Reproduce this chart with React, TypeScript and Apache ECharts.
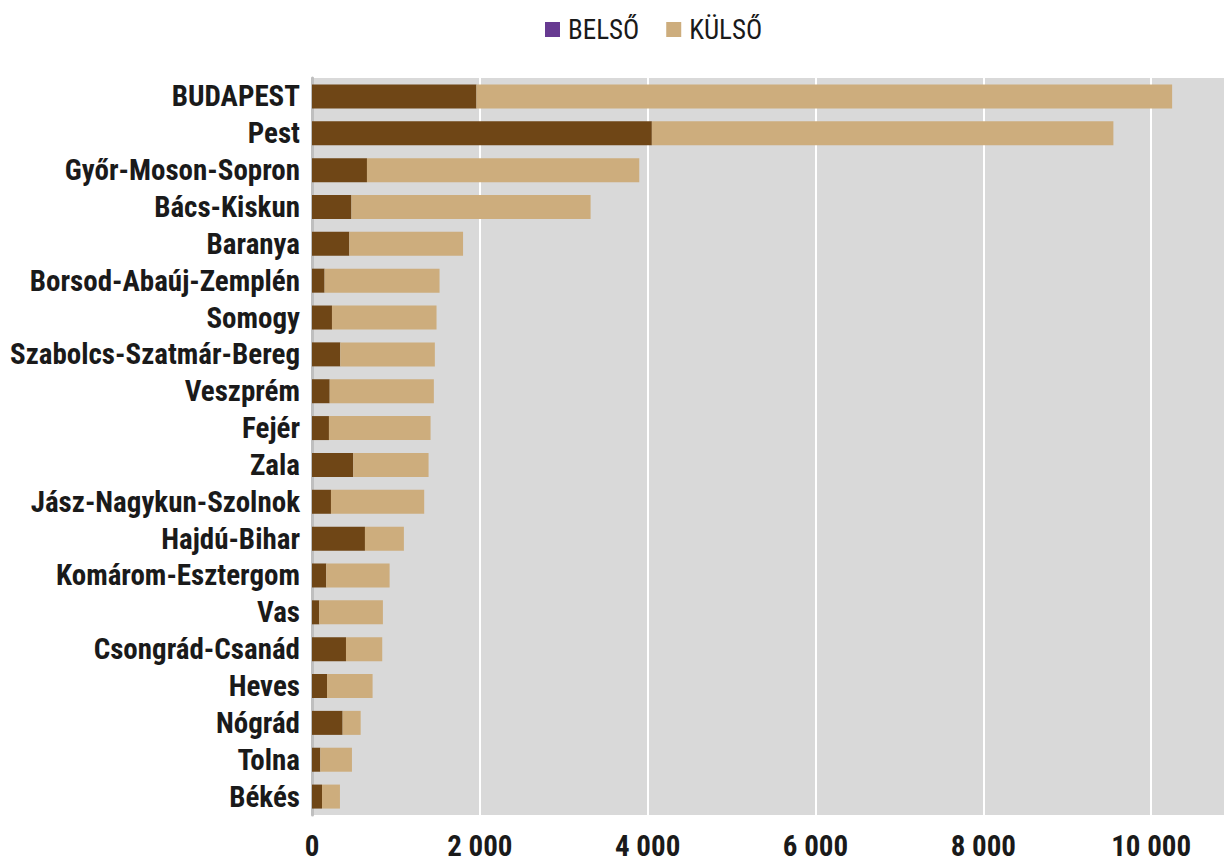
import React, { useEffect, useRef } from "react";
import * as echarts from "echarts";

const categories = [
  "BUDAPEST", "Pest", "Győr-Moson-Sopron", "Bács-Kiskun", "Baranya",
  "Borsod-Abaúj-Zemplén", "Somogy", "Szabolcs-Szatmár-Bereg", "Veszprém", "Fejér",
  "Zala", "Jász-Nagykun-Szolnok", "Hajdú-Bihar", "Komárom-Esztergom", "Vas",
  "Csongrád-Csanád", "Heves", "Nógrád", "Tolna", "Békés",
];
const belso = [1960, 4050, 655, 470, 445, 150, 238, 337, 211, 202, 492, 226, 631, 170, 87, 405, 179, 365, 99, 119];
const totals = [10250, 9550, 3900, 3320, 1800, 1520, 1484, 1464, 1452, 1413, 1389, 1337, 1095, 925, 845, 837, 722, 580, 476, 333];
const kulso = totals.map((t, i) => t - belso[i]);
const tickValues = [0, 2000, 4000, 6000, 8000, 10000];

const FONT = "'Roboto Condensed', 'Liberation Sans Narrow', 'DejaVu Sans Condensed', sans-serif";

export default function App() {
  const ref = useRef<HTMLDivElement>(null);
  useEffect(() => {
    if (!ref.current) return;
    const chart = echarts.init(ref.current, undefined, { renderer: "svg" });
    chart.setOption({
      animation: false,
      backgroundColor: "#ffffff",
      textStyle: { fontFamily: FONT },
      legend: {
        top: 11,
        left: 540,
        itemWidth: 15,
        itemHeight: 15,
        itemGap: 27,
        icon: "rect",
        textStyle: { fontFamily: FONT, fontSize: 27, color: "#1a1a1a", padding: [0, 0, 0, 3] },
        data: [
          { name: "BELSŐ", itemStyle: { color: "#673a91" } },
          { name: "KÜLSŐ", itemStyle: { color: "#cdad7d" } },
        ],
      },
      grid: {
        left: 312,
        right: 0,
        top: 78,
        bottom: 46,
        containLabel: false,
        outerBoundsMode: "none",
        show: true,
        backgroundColor: "#d9d9d9",
        borderWidth: 0,
      },
      xAxis: {
        type: "value",
        min: 0,
        max: 10880,
        interval: 2000,
        axisLine: { show: false },
        axisTick: { show: false },
        splitLine: { show: true, lineStyle: { color: "#ffffff", width: 2 } },
        axisLabel: {
          showMaxLabel: false,
          margin: 16,
          lineHeight: 29,
          fontFamily: FONT,
          fontSize: 29,
          fontWeight: "bold",
          color: "#1a1a1a",
          formatter: (v: number) =>
            tickValues.includes(v) ? String(v).replace(/\B(?=(\d{3})+(?!\d))/g, " ") : "",
        },
      },
      yAxis: {
        type: "category",
        data: categories,
        inverse: true,
        axisLine: { show: true, lineStyle: { color: "#bfbfbf", width: 3 } },
        axisTick: { show: false },
        axisLabel: {
          interval: 0,
          margin: 12,
          fontFamily: FONT,
          fontSize: 29,
          fontWeight: "bold",
          color: "#1a1a1a",
        },
      },
      series: [
        {
          name: "BELSŐ",
          type: "bar",
          stack: "total",
          barWidth: 24,
          data: belso,
          itemStyle: { color: "#6f4616" },
        },
        {
          name: "KÜLSŐ",
          type: "bar",
          stack: "total",
          barWidth: 24,
          data: kulso,
          itemStyle: { color: "#cdad7d" },
        },
      ],
    });
    return () => chart.dispose();
  }, []);
  return (
    <div
      ref={ref}
      style={{ position: "fixed", left: 0, top: 0, width: 1225, height: 861 }}
    />
  );
}
